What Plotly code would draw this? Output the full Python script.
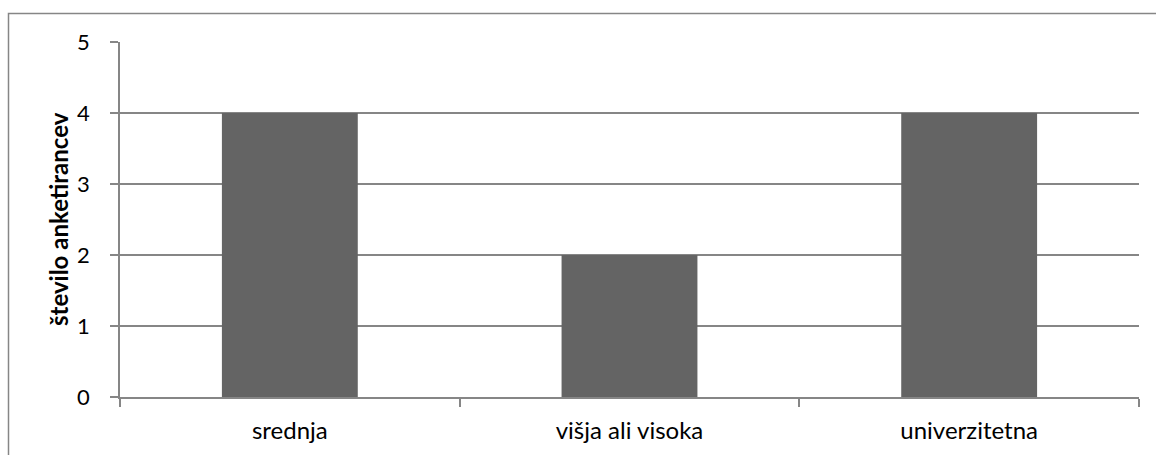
import plotly.graph_objects as go

# Survey respondents by education level
categories = ["srednja", "višja ali visoka", "univerzitetna"]
counts = [4, 2, 4]
y_ticks = [0, 1, 2, 3, 4, 5]
y_title = "število anketirancev"

W, H = 1156, 455
ml, mr, mt, mb = 120, 17, 42, 58
pw, ph = W - ml - mr, H - mt - mb

def px_to_paper_x(px):
    return (px - ml) / pw

def px_to_paper_y(py):
    return (H - mb - py) / ph

fig = go.Figure(
    go.Bar(
        x=categories,
        y=counts,
        marker=dict(color="#646464", line=dict(width=0)),
    )
)

family = "Lato, Carlito, sans-serif"
xfont = dict(family=family, size=24, color="#000000")
yfont = dict(family=family, size=22, color="#000000")

fig.update_layout(
    width=W,
    height=H,
    margin=dict(l=ml, r=mr, t=mt, b=mb),
    paper_bgcolor="white",
    plot_bgcolor="white",
    bargap=0.6,
    showlegend=False,
    font=xfont,
    xaxis=dict(
        type="category",
        showgrid=False,
        showline=True,
        linecolor="#868686",
        linewidth=1.5,
        ticks="outside",
        tickson="boundaries",
        ticklen=8,
        tickcolor="#868686",
        tickwidth=1.5,
        ticklabelstandoff=11,
        tickfont=xfont,
    ),
    yaxis=dict(
        range=[0, 5],
        tickvals=y_ticks,
        showgrid=True,
        gridcolor="#868686",
        gridwidth=1.5,
        showline=True,
        linecolor="#868686",
        linewidth=1.5,
        ticks="outside",
        ticklen=8,
        tickcolor="#868686",
        tickwidth=1.5,
        ticklabelstandoff=16,
        zeroline=False,
        tickfont=yfont,
    ),
    annotations=[
        dict(
            text="<b>" + y_title + "</b>",
            textangle=-90,
            xref="paper",
            yref="paper",
            x=px_to_paper_x(58),
            y=px_to_paper_y(219),
            xanchor="center",
            yanchor="middle",
            showarrow=False,
            font=dict(family=family, size=24, color="#000000"),
        )
    ],
    shapes=[
        dict(
            type="rect",
            xref="paper",
            yref="paper",
            x0=px_to_paper_x(8.5),
            x1=px_to_paper_x(W + 5),
            y0=px_to_paper_y(H + 5),
            y1=px_to_paper_y(13.5),
            line=dict(color="#868686", width=1.5),
            layer="below",
        )
    ],
)

fig.write_html("out.html")
